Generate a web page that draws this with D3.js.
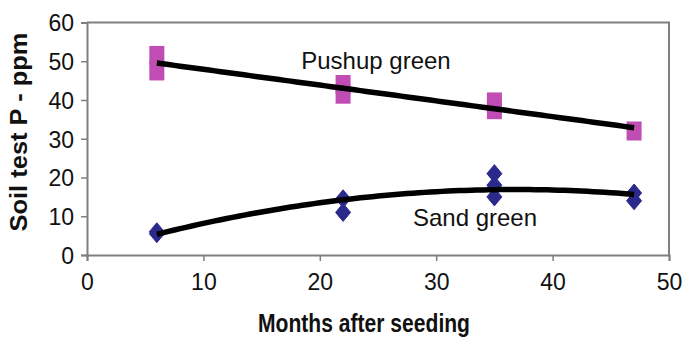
<!DOCTYPE html>
<html><head><meta charset="utf-8">
<script src="https://cdn.jsdelivr.net/npm/d3@7"></script>
<style>
html,body{margin:0;padding:0;background:#fff;}
svg text{font-family:"Liberation Sans",Arial,sans-serif;fill:#111;}
</style></head>
<body>
<svg id="chart" width="684" height="337"></svg>
<script>
// ---- data ----
const pushupMonths = [6, 6, 22, 22, 35, 35, 47];
const pushupP      = [51.5, 47.5, 44, 41.5, 39.5, 37.5, 32];
const sandMonths   = [6, 6, 22, 22, 35, 35, 35, 47, 47];
const sandP        = [6, 5.5, 14.5, 11, 21, 18, 15, 16, 14];
const xTicks = [0, 10, 20, 30, 40, 50];
const yTicks = [0, 10, 20, 30, 40, 50, 60];
const seriesLabels = ["Pushup green", "Sand green"];
const xTitle = "Months after seeding";
const yTitle = "Soil test P - ppm";

const svg = d3.select("#chart");
const x = d3.scaleLinear().domain([0, 50]).range([87, 669]);
const y = d3.scaleLinear().domain([0, 60]).range([255, 22.5]);
const axisColor = "#7f7f7f";

// plot box (top/right)
svg.append("path")
  .attr("d", `M${x(0)},${y(60)}H${x(50)}V${y(0)}`)
  .attr("fill", "none").attr("stroke", axisColor).attr("stroke-width", 2);

const gx = svg.append("g").attr("transform", `translate(0,${y(0)})`)
  .call(d3.axisBottom(x).tickValues(xTicks).tickSize(6).tickPadding(7).tickFormat(d3.format("d")));
const gy = svg.append("g").attr("transform", `translate(${x(0)},0)`)
  .call(d3.axisLeft(y).tickValues(yTicks).tickSize(6).tickPadding(7).tickFormat(d3.format("d")));
[gx, gy].forEach(g => {
  g.select(".domain").attr("stroke", axisColor).attr("stroke-width", 2);
  g.selectAll(".tick line").attr("stroke", axisColor).attr("stroke-width", 1.5);
  g.selectAll("text").attr("font-size", 23).attr("fill", "#111")
    .attr("font-family", "'Liberation Sans',Arial,sans-serif");
});
gy.selectAll("text").attr("dy", "0.36em");
gx.selectAll("text").attr("dy", "0.95em");

// fits
function linFit(xs, ys) {
  const n = xs.length, mx = d3.mean(xs), my = d3.mean(ys);
  let sxy = 0, sxx = 0;
  for (let i = 0; i < n; i++) { sxy += (xs[i]-mx)*(ys[i]-my); sxx += (xs[i]-mx)**2; }
  const b = sxy / sxx; return t => my + b*(t-mx);
}
function quadFit(xs, ys) {
  let S = [[0,0,0],[0,0,0],[0,0,0]], T = [0,0,0];
  xs.forEach((xi, i) => {
    const v = [1, xi, xi*xi];
    for (let r = 0; r < 3; r++) { T[r] += v[r]*ys[i]; for (let c = 0; c < 3; c++) S[r][c] += v[r]*v[c]; }
  });
  const M = S.map((row, i) => row.concat([T[i]]));
  for (let i = 0; i < 3; i++) {
    for (let k = i+1; k < 3; k++) {
      const f = M[k][i]/M[i][i];
      for (let j = i; j < 4; j++) M[k][j] -= f*M[i][j];
    }
  }
  const s = [0,0,0];
  for (let i = 2; i >= 0; i--) {
    let v = M[i][3]; for (let j = i+1; j < 3; j++) v -= M[i][j]*s[j]; s[i] = v/M[i][i];
  }
  return t => s[0] + s[1]*t + s[2]*t*t;
}
const fp = linFit(pushupMonths, pushupP);
const fs = quadFit(sandMonths, sandP);
const line = d3.line().x(d => x(d[0])).y(d => y(d[1]));
const tx = d3.range(6, 47.01, 0.5);

// markers
svg.append("g").selectAll("rect").data(pushupMonths.map((m, i) => [m, pushupP[i]])).join("rect")
  .attr("x", d => x(d[0]) - 7.5).attr("y", d => y(d[1]) - 9.5)
  .attr("width", 15).attr("height", 19).attr("fill", "#bf4db3");
svg.append("g").selectAll("path").data(sandMonths.map((m, i) => [m, sandP[i]])).join("path")
  .attr("d", d => { const cx = x(d[0]), cy = y(d[1]); return `M${cx},${cy-9}L${cx+7.5},${cy}L${cx},${cy+9}L${cx-7.5},${cy}Z`; })
  .attr("fill", "#2b2a8c").attr("stroke", "#2b2a8c").attr("stroke-width", 1).attr("stroke-linejoin", "round");

svg.append("path").datum(tx.map(t => [t, fp(t)])).attr("d", line)
  .attr("fill", "none").attr("stroke", "#000").attr("stroke-width", 5.5);
svg.append("path").datum(tx.map(t => [t, fs(t)])).attr("d", line)
  .attr("fill", "none").attr("stroke", "#000").attr("stroke-width", 5.5);

// series labels
svg.append("text").attr("x", 376).attr("y", 69).attr("text-anchor", "middle")
  .attr("font-size", 24).text(seriesLabels[0]);
svg.append("text").attr("x", 475).attr("y", 226).attr("text-anchor", "middle")
  .attr("font-size", 24).text(seriesLabels[1]);

// titles
svg.append("text").attr("x", 364).attr("y", 332).attr("text-anchor", "middle")
  .attr("font-size", 25).attr("font-weight", "bold")
  .attr("textLength", 212).attr("lengthAdjust", "spacingAndGlyphs").text(xTitle);
svg.append("text").attr("transform", "translate(27,132) rotate(-90)").attr("text-anchor", "middle")
  .attr("font-size", 23).attr("font-weight", "bold")
  .attr("textLength", 199).attr("lengthAdjust", "spacingAndGlyphs").text(yTitle);
</script>
</body></html>
